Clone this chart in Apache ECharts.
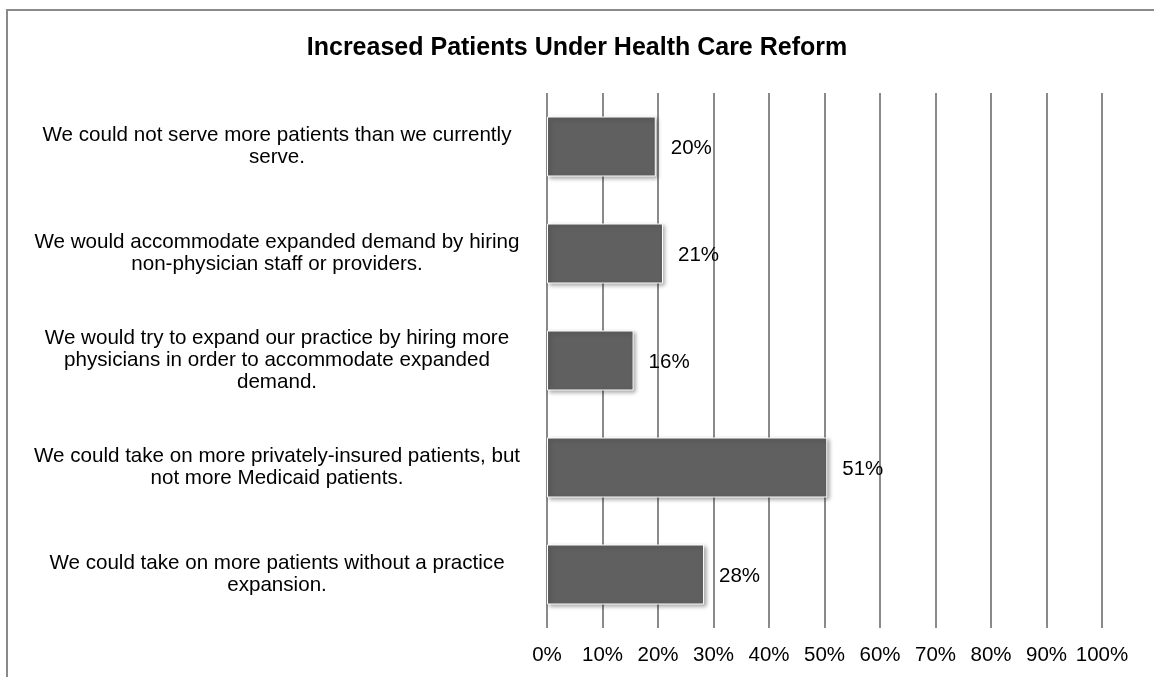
<!DOCTYPE html>
<html>
<head>
<meta charset="utf-8">
<script src="https://cdn.jsdelivr.net/npm/echarts@6/dist/echarts.min.js"></script>
<style>
  html, body { margin: 0; padding: 0; background: #fff; }
  #chart { width: 1154px; height: 677px; }
</style>
</head>
<body>
<div id="chart"></div>
<script>
// categories, top to bottom (line breaks as in the original)
const categories = [
  'We could not serve more patients than we currently\nserve.',
  'We would accommodate expanded demand by hiring\nnon-physician staff or providers.',
  'We would try to expand our practice by hiring more\nphysicians in order to accommodate expanded\ndemand.',
  'We could take on more privately-insured patients, but\nnot more Medicaid patients.',
  'We could take on more patients without a practice\nexpansion.'
]
// percent of respondents
const values = [19.6, 20.9, 15.6, 50.5, 28.3]

const titleText = 'Increased Patients Under Health Care Reform'
const fontFamily = '"Liberation Sans", Arial, sans-serif'

const myChart = echarts.init(document.getElementById('chart'))

myChart.setOption({
  animation: false,
  title: {
    text: titleText,
    left: 'center',
    top: 31,
    textStyle: {
      fontFamily: fontFamily,
      fontSize: 25,
      fontWeight: 'bold',
      color: '#000'
    }
  },
  graphic: [
    {
      // outer chart frame, runs off the page on right/bottom
      type: 'rect',
      shape: { x: 7, y: 10, width: 1400, height: 1000 },
      style: { fill: 'none', stroke: '#8a8a8a', lineWidth: 2 },
      silent: true
    }
  ],
  grid: {
    left: 547,
    right: 52,
    top: 93,
    bottom: 49,
    containLabel: false
  },
  xAxis: {
    type: 'value',
    min: 0,
    max: 100,
    interval: 10,
    axisLine: { show: false },
    axisTick: { show: false },
    splitLine: {
      show: true,
      lineStyle: { color: '#8a8a8a', width: 2 }
    },
    axisLabel: {
      formatter: '{value}%',
      margin: 17,
      fontFamily: fontFamily,
      fontSize: 20.5,
      color: '#000'
    }
  },
  yAxis: {
    type: 'category',
    data: categories,
    inverse: true,
    axisLine: { show: false },
    axisTick: { show: false },
    splitLine: { show: false },
    axisLabel: {
      align: 'center',
      margin: 270,
      lineHeight: 22,
      fontFamily: fontFamily,
      fontSize: 20.6,
      color: '#000'
    }
  },
  series: [
    {
      type: 'bar',
      data: values,
      barWidth: 60,
      itemStyle: {
        color: '#606060',
        borderColor: '#ffffff',
        borderWidth: 1,
        shadowColor: 'rgba(0,0,0,0.35)',
        shadowBlur: 4,
        shadowOffsetX: 2,
        shadowOffsetY: 2
      },
      label: {
        show: true,
        position: 'right',
        distance: 15,
        offset: [0, 2],
        formatter: (p) => Math.round(p.value) + '%',
        fontFamily: fontFamily,
        fontSize: 20.5,
        color: '#000'
      }
    }
  ]
})
</script>
</body>
</html>
